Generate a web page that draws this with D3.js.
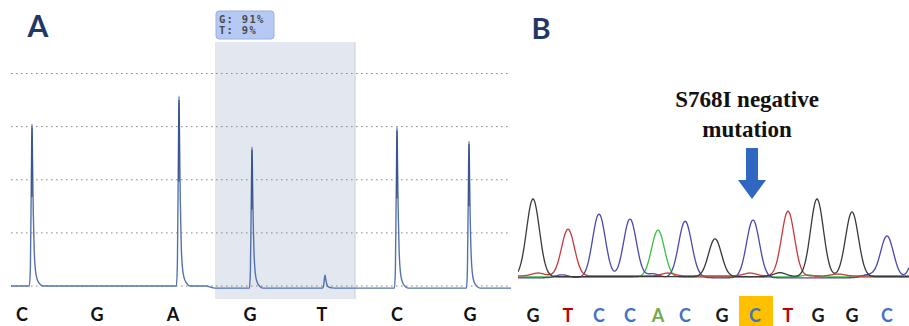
<!DOCTYPE html>
<html><head><meta charset="utf-8">
<script src="https://cdn.jsdelivr.net/npm/d3@7"></script>
<style>html,body{margin:0;padding:0;background:#fff;}svg{display:block;}</style>
</head><body>
<svg id="chart" width="909" height="326"></svg>
<script>
// ---------- Panel A (pyrogram) data ----------
const aBases = ["C","G","A","G","T","C","G"];
const aBaseX = [11, 86, 162, 239, 311, 386, 459];          // scan units
const aPeakX = [21, 168, 241, 314, 386, 458];              // scan units
const aPeakH = [762, 894, 654, 52, 748, 682];              // signal
const aGridTicks = [0, 250, 500, 750, 1000];
const aHighlight = [204, 344];
const aTooltip = ["G: 91%", "T: 9%"];

// ---------- Panel B (Sanger chromatogram) data ----------
const bBases = ["G","T","C","C","A","C","G","C","T","G","G","C"];
const bBaseX = [15, 50, 81, 112, 140, 167, 204, 237, 270, 300, 334, 369];
const bPeakBase = ["G","T","C","C","A","C","G","C","T","G","G","C","C"];
const bPeakX = [15, 50, 81, 112, 140, 167, 197, 235, 270, 299, 334, 369, 402];
const bPeakH = [78, 47, 64, 59, 47, 56, 38, 58, 65, 78, 65, 42, 45];
const bNoiseBase = ["T","C","C","T","C","T","G","A","T","C"];
const bNoiseX = [20, 44, 135, 150, 176, 232, 262, 290, 320, 350];
const bNoiseH = [3, 3, 4, 3, 2, 3, 4, 2, 2, 3];
const bHighlightIndex = 7;
const bTitle = ["S768I negative", "mutation"];

const svg = d3.select("#chart");
const baseColor = {G:"#1a1a1a", T:"#c00000", C:"#4472c4", A:"#70ad47"};
const traceColor = {G:"#3a3a3a", T:"#c83a3a", C:"#4848b0", A:"#3cc043"};

// ===== Panel A =====
const ax = d3.scaleLinear().domain([0, 500]).range([11, 511]);
const ay = d3.scaleLinear().domain([0, 1000]).range([286, 73.5]);

// highlight band
svg.append("rect")
  .attr("x", ax(aHighlight[0])).attr("y", 42)
  .attr("width", ax(aHighlight[1]) - ax(aHighlight[0])).attr("height", 257)
  .attr("fill", "#e3e7ef");
svg.append("line")
  .attr("x1", ax(aHighlight[1])).attr("x2", ax(aHighlight[1]))
  .attr("y1", 42).attr("y2", 299)
  .attr("stroke", "#c8ccd4").attr("stroke-width", 1);

// grid
svg.append("g").selectAll("line").data(aGridTicks).join("line")
  .attr("x1", ax(0)).attr("x2", ax(500))
  .attr("y1", d => ay(d)).attr("y2", d => ay(d))
  .attr("stroke", "#8a8a8a").attr("stroke-width", 1)
  .attr("stroke-dasharray", "1.6,3.4");

// tooltip
const tipX = ax(aHighlight[0]) + 1;
svg.append("rect").attr("x", tipX).attr("y", 11).attr("width", 58).attr("height", 28)
  .attr("rx", 3).attr("fill", "#b5c9f4").attr("stroke", "#98afe0");
svg.append("g").selectAll("text").data(aTooltip).join("text")
  .attr("x", tipX + 3).attr("y", (d, i) => 23 + i * 11)
  .attr("font-family", "DejaVu Sans Mono, Liberation Mono, monospace")
  .attr("font-size", 10.5).attr("letter-spacing", 1.3).attr("font-weight", 700)
  .attr("fill", "#4a4a4a")
  .text(d => d);

// trace
const profile = [[-2.6,0],[-1.6,0.12],[-0.6,0.7],[0,1],[0.6,0.75],[1.3,0.45],[2.2,0.22],[3.4,0.1],[5,0.045],[7.5,0.015],[11,0]];
function aBaseline(x){ return x < 204 ? 0 : -10; }
const aPts = [[0, 0]];
aPeakX.forEach((px, i) => {
  profile.forEach(([dx, f]) => {
    const x = px + dx;
    aPts.push([x, aBaseline(x) + f * (aPeakH[i] - aBaseline(px))]);
  });
  if (i === 1) { aPts.push([195, 0]); aPts.push([204, -10]); }
});
aPts.push([500, -10]);
const aLine = d3.line().x(d => ax(d[0])).y(d => ay(d[1])).curve(d3.curveMonotoneX);
svg.append("path").attr("d", aLine(aPts))
  .attr("fill", "none").attr("stroke", "#5572ad").attr("stroke-width", 1.4);
// darker core near peak tops
svg.append("g").selectAll("line").data(aPeakX).join("line")
  .attr("x1", d => ax(d)).attr("x2", d => ax(d))
  .attr("y1", (d, i) => ay(aPeakH[i] * 0.98)).attr("y2", (d, i) => ay(aPeakH[i] * 0.55))
  .attr("stroke", "#1f3a70").attr("stroke-width", (d, i) => aPeakH[i] > 100 ? 1 : 0);

// base labels A
svg.append("g").selectAll("text").data(aBases).join("text")
  .attr("x", (d, i) => ax(aBaseX[i])).attr("y", 321)
  .attr("text-anchor", "middle")
  .attr("font-family", "Lato, Open Sans, sans-serif").attr("font-weight", 700)
  .attr("font-size", 18).attr("fill", "#111")
  .text(d => d);

// panel label A
svg.append("text").attr("x", 38).attr("y", 37).attr("text-anchor", "middle")
  .attr("font-family", "Lato, Open Sans, sans-serif").attr("font-weight", 700)
  .attr("font-size", 30).attr("fill", "#1f3864").text("A");

// ===== Panel B =====
const bx = d3.scaleLinear().domain([0, 391]).range([518, 909]);
const by = d3.scaleLinear().domain([0, 100]).range([277, 177]);
svg.append("clipPath").attr("id", "bclip")
  .append("rect").attr("x", 518).attr("y", 150).attr("width", 391).attr("height", 140);

const channels = ["A", "C", "T", "G"];
const sigma = 6.4;
const samples = d3.range(0, 392, 1);
const bLine = d3.line().x(d => bx(d[0])).y(d => by(d[1])).curve(d3.curveBasis);
const chOffset = {G: 0.3, T: 1, C: -0.8, A: 0};
channels.forEach(ch => {
  const peaks = [];
  bPeakBase.forEach((b, i) => { if (b === ch) peaks.push([bPeakX[i], bPeakH[i]]); });
  bNoiseBase.forEach((b, i) => { if (b === ch) peaks.push([bNoiseX[i], bNoiseH[i]]); });
  const pts = samples.map(x => {
    let v = chOffset[ch];
    peaks.forEach(([px, h]) => { v += h * Math.exp(-((x - px) ** 2) / (2 * sigma * sigma)); });
    return [x, v];
  });
  svg.append("path").attr("d", bLine(pts)).attr("clip-path", "url(#bclip)")
    .attr("fill", "none").attr("stroke", traceColor[ch]).attr("stroke-width", 1.3);
});

// highlight box for mutated base
svg.append("rect")
  .attr("x", bx(bBaseX[bHighlightIndex]) - 16).attr("y", 296)
  .attr("width", 34).attr("height", 30).attr("fill", "#ffc000");

// base labels B
svg.append("g").selectAll("text").data(bBases).join("text")
  .attr("x", (d, i) => bx(bBaseX[i])).attr("y", 322)
  .attr("text-anchor", "middle")
  .attr("font-family", "Lato, Open Sans, sans-serif").attr("font-weight", 700)
  .attr("font-size", 18).attr("fill", d => baseColor[d])
  .text(d => d);

// title
svg.append("g").selectAll("text").data(bTitle).join("text")
  .attr("x", 747).attr("y", (d, i) => 107 + i * 30)
  .attr("text-anchor", "middle")
  .attr("font-family", "Liberation Serif, Times New Roman, serif").attr("font-weight", 700)
  .attr("font-size", 23).attr("fill", "#111")
  .text(d => d);

// arrow
const arX = bx(bBaseX[bHighlightIndex]) - 3;
svg.append("path")
  .attr("d", `M${arX-6},148 L${arX+6},148 L${arX+6},180 L${arX+14},180 L${arX},199 L${arX-14},180 L${arX-6},180 Z`)
  .attr("fill", "#2f67c2");

// panel label B
svg.append("text").attr("x", 541).attr("y", 39).attr("text-anchor", "middle")
  .attr("font-family", "Lato, Open Sans, sans-serif").attr("font-weight", 700)
  .attr("font-size", 29).attr("fill", "#1f3864").text("B");
</script>
</body></html>
